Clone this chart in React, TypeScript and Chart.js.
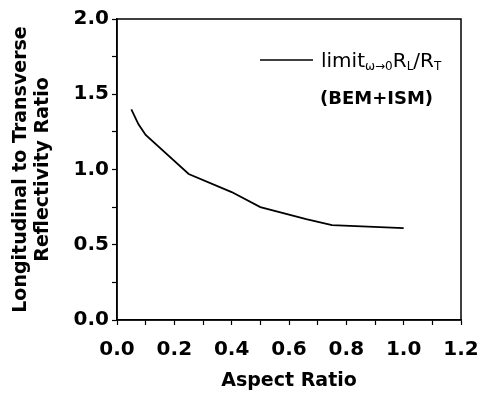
import React, { useEffect, useRef } from "react";
import { Chart, registerables } from "chart.js";

Chart.register(...registerables);

const aspectRatio = [0.05, 0.075, 0.1, 0.25, 0.4, 0.5, 0.66, 0.75, 1.0];
const reflectivityRatio = [1.4, 1.3, 1.23, 0.97, 0.85, 0.75, 0.67, 0.63, 0.61];
const xTicks = [0, 0.2, 0.4, 0.6, 0.8, 1.0, 1.2];
const yTicks = [0, 0.5, 1.0, 1.5, 2.0];
const yTitle = ["Longitudinal to Transverse", "Reflectivity Ratio"];
const xTitle = "Aspect Ratio";
const legendMain = "limit";
const legendSub = "ω→0";
const legendLine2 = "(BEM+ISM)";

const FONT = "'DejaVu Sans', sans-serif";

const framePlugin = {
  id: "frame",
  afterDraw(chart: any) {
    const { ctx, chartArea: a } = chart;
    ctx.save();
    ctx.strokeStyle = "#000";
    ctx.lineWidth = 1.5;
    ctx.strokeRect(a.left, a.top, a.right - a.left, a.bottom - a.top);
    // legend
    const lx0 = a.left + 143;
    const ly = a.top + 41;
    ctx.lineWidth = 1.5;
    ctx.beginPath();
    ctx.moveTo(lx0, ly);
    ctx.lineTo(lx0 + 53, ly);
    ctx.stroke();
    ctx.fillStyle = "#000";
    ctx.textBaseline = "alphabetic";
    ctx.textAlign = "left";
    let x = lx0 + 61;
    const base = ly + 7;
    const big = "20px " + FONT;
    const small = "12px " + FONT;
    const put = (t: string, f: string, dy: number) => {
      ctx.font = f;
      ctx.fillText(t, x, base + dy);
      x += ctx.measureText(t).width;
    };
    put(legendMain, big, 0);
    put(legendSub, small, 3);
    put("R", big, 0);
    put("L", small, 3);
    put("/R", big, 0);
    put("T", small, 3);
    ctx.font = "bold 18px " + FONT;
    ctx.fillText(legendLine2, lx0 + 60, a.top + 85);
    ctx.restore();
  },
};

export default function App() {
  const ref = useRef<HTMLCanvasElement>(null);
  useEffect(() => {
    const chart = new Chart(ref.current!, {
      type: "line",
      data: {
        datasets: [
          {
            data: aspectRatio.map((x, i) => ({ x, y: reflectivityRatio[i] })),
            borderColor: "#000",
            borderWidth: 1.8,
            pointRadius: 0,
            tension: 0,
            fill: false,
          },
        ],
      },
      options: {
        animation: false,
        responsive: false,
        layout: { padding: { top: 19, right: 24, left: 0, bottom: 0 } },
        plugins: { legend: { display: false }, tooltip: { enabled: false } },
        scales: {
          x: {
            type: "linear",
            min: 0,
            max: 1.2,
            afterFit: (s: any) => {
              s.height = 74;
              s.paddingLeft = 0;
              s.paddingRight = 0;
            },
            afterBuildTicks: (s: any) => {
              const t = [];
              for (let i = 0; i <= 12; i++) t.push({ value: i / 10 });
              s.ticks = t;
            },
            ticks: {
              autoSkip: false,
              maxRotation: 0,
              color: "#000",
              font: { family: FONT, size: 20, weight: "bold" },
              padding: 13,
              callback: (v: any) => {
                const m = xTicks.find((t) => Math.abs(t - v) < 1e-6);
                return m === undefined ? "" : m.toFixed(1);
              },
            },
            grid: {
              drawOnChartArea: false,
              tickLength: 5,
              color: "#000",
              tickColor: "#000",
              tickWidth: 1.2,
            },
            border: { display: true, color: "#000", width: 1.5 },
            title: {
              display: true,
              text: xTitle,
              color: "#000",
              font: { family: FONT, size: 19, weight: "bold" },
              padding: { top: 0, bottom: 2 },
            },
          },
          y: {
            type: "linear",
            min: 0,
            max: 2,
            afterFit: (s: any) => {
              s.width = 117;
              s.paddingTop = 0;
              s.paddingBottom = 0;
            },
            afterBuildTicks: (s: any) => {
              const t = [];
              for (let i = 0; i <= 8; i++) t.push({ value: i / 4 });
              s.ticks = t;
            },
            ticks: {
              autoSkip: false,
              color: "#000",
              font: { family: FONT, size: 20, weight: "bold" },
              padding: 3,
              callback: (v: any) => {
                const m = yTicks.find((t) => Math.abs(t - v) < 1e-6);
                return m === undefined ? "" : m.toFixed(1);
              },
            },
            grid: {
              drawOnChartArea: false,
              tickLength: 5,
              color: "#000",
              tickColor: "#000",
              tickWidth: 1.2,
            },
            border: { display: true, color: "#000", width: 1.5 },
            title: {
              display: true,
              text: yTitle,
              color: "#000",
              font: { family: FONT, size: 19, weight: "bold", lineHeight: 1.15 },
              padding: { top: 10, bottom: 0 },
            },
          },
        },
      },
      plugins: [framePlugin],
    } as any);
    return () => chart.destroy();
  }, []);
  return (
    <div style={{ position: "absolute", left: 0, top: 0, width: 485, height: 394, background: "#fff" }}>
      <canvas ref={ref} width={485} height={394} style={{ width: 485, height: 394 }} />
    </div>
  );
}
